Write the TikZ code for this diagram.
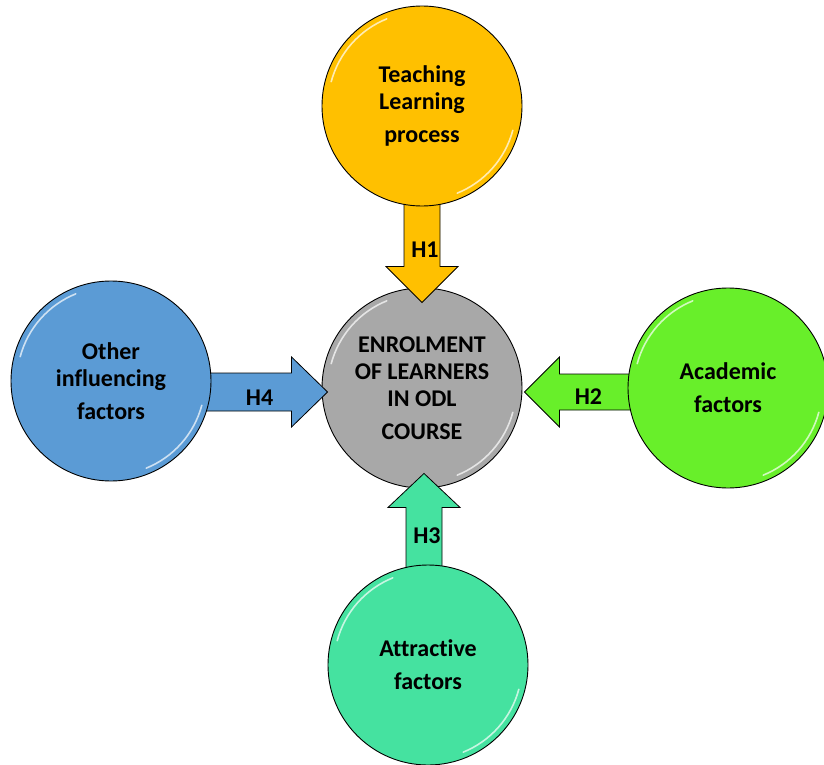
\documentclass[tikz,border=0pt]{standalone}
\usepackage{fontspec}
\setmainfont[Ligatures=NoCommon]{Carlito}
\usetikzlibrary{calc}
\pgfdeclarelayer{back}
\pgfdeclarelayer{mid}
\pgfsetlayers{back,mid,main}

\definecolor{tlgold}{HTML}{FFC000}
\definecolor{acgreen}{HTML}{68EF2A}
\definecolor{atteal}{HTML}{45E2A0}
\definecolor{oiblue}{HTML}{5B9BD5}
\definecolor{odlgray}{HTML}{A8A8A8}

\begin{document}
\begin{tikzpicture}[
    x=1pt, y=1pt,
    every node/.style={font=\fontsize{24}{27}\selectfont\bfseries},
    bubble/.style={circle, draw=black, line width=0.9pt, fill=#1,
        minimum size=200pt, inner sep=0pt, align=center,
        path picture={
            \draw[white, opacity=0.7, line width=1.6pt, line cap=round]
                ([shift={(112:94pt)}]path picture bounding box.center)
                arc[start angle=112, end angle=165, radius=94pt];
            \draw[white, opacity=0.7, line width=1.6pt, line cap=round]
                ([shift={(-68:94pt)}]path picture bounding box.center)
                arc[start angle=-68, end angle=-15, radius=94pt];
        }},
    blockarrow/.style={draw=black, line width=0.8pt, fill=#1, line join=miter}
]

\useasboundingbox (0,0) rectangle (824,-765);

% Enrolment circle (kept under the arrows)
\begin{pgfonlayer}{back}
\node[bubble=odlgray] (enrol) at (422,-388) {ENROLMENT\\OF LEARNERS\\IN ODL\\[6pt]COURSE};
\end{pgfonlayer}

% Factor circles
\node[bubble=tlgold] (teach) at (422,-106) {Teaching\\Learning\\[6pt]process};
\node[bubble=acgreen] (academic) at (728,-388) {Academic\\[6pt]factors};
\node[bubble=atteal] (attract) at (428,-665) {Attractive\\[6pt]factors};
\node[bubble=oiblue] (other) at (111,-381) {Other\\influencing\\[6pt]factors};

\begin{pgfonlayer}{mid}
% H1 arrow
\draw[blockarrow=tlgold] ([xshift=-18pt]teach.center) -- ([xshift=-18pt,yshift=21pt]enrol.north)
    -- ([xshift=-36pt,yshift=21pt]enrol.north) -- ([yshift=-15pt]enrol.north)
    -- ([xshift=36pt,yshift=21pt]enrol.north) -- ([xshift=18pt,yshift=21pt]enrol.north)
    -- ([xshift=18pt]teach.center) -- cycle;

% H2 arrow
\draw[blockarrow=acgreen] ([yshift=14pt]enrol.center -| academic.center) -- ([xshift=37pt,yshift=14pt]enrol.east)
    -- ([xshift=37pt,yshift=31pt]enrol.east) -- ([xshift=2pt,yshift=-4pt]enrol.east)
    -- ([xshift=37pt,yshift=-39pt]enrol.east) -- ([xshift=37pt,yshift=-22pt]enrol.east)
    -- ([yshift=-22pt]enrol.center -| academic.center) -- cycle;

% H3 arrow
\draw[blockarrow=atteal] ([xshift=-16pt]enrol.center |- attract.center) -- ([xshift=-16pt,yshift=-19pt]enrol.south)
    -- ([xshift=-34pt,yshift=-19pt]enrol.south) -- ([xshift=2pt,yshift=15pt]enrol.south)
    -- ([xshift=38pt,yshift=-19pt]enrol.south) -- ([xshift=20pt,yshift=-19pt]enrol.south)
    -- ([xshift=20pt]enrol.center |- attract.center) -- cycle;

% H4 arrow
\draw[blockarrow=oiblue] ([yshift=15pt]enrol.center -| other.center) -- ([xshift=-30pt,yshift=15pt]enrol.west)
    -- ([xshift=-30pt,yshift=31pt]enrol.west) -- ([xshift=6pt,yshift=-4pt]enrol.west)
    -- ([xshift=-30pt,yshift=-39pt]enrol.west) -- ([xshift=-30pt,yshift=-23pt]enrol.west)
    -- ([yshift=-23pt]enrol.center -| other.center) -- cycle;
\end{pgfonlayer}

% Hypothesis labels
\node (h1) at ([xshift=3pt,yshift=-144pt]teach.center) {H1};
\node (h2) at ([xshift=66pt,yshift=-9pt]enrol.east) {H2};
\node (h3) at ([xshift=5pt,yshift=-47pt]enrol.south) {H3};
\node (h4) at ([xshift=-62pt,yshift=-10pt]enrol.west) {H4};

\end{tikzpicture}
\end{document}
